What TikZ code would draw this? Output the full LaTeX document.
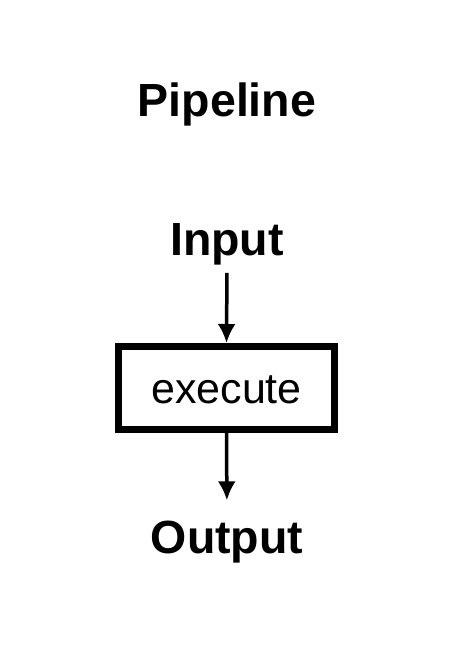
\documentclass[tikz,border=0pt]{standalone}
\usepackage{fontspec}
\setmainfont{Liberation Sans}
\usetikzlibrary{arrows.meta}
\tikzset{
  heading/.style={inner sep=0pt,anchor=base,font=\fontsize{46.5}{55}\selectfont\bfseries},
  stagebox/.style={draw,line width=7pt,minimum width=216pt,minimum height=83pt,
    text height=30pt,text depth=0pt,font=\fontsize{43}{52}\selectfont},
  flow/.style={line width=3.5pt,-{Latex[length=19pt,width=18pt]}}
}
\begin{document}
\begin{tikzpicture}[x=1pt,y=-1pt]
  \useasboundingbox (0,0) rectangle (456,666);
  \node[heading] (title) at (227,117) {Pipeline};
  \node[heading] (input) at (227,255) {Input};
  \node[stagebox] (exec) at (226.5,388) {execute};
  \node[heading] (output) at (227,553) {Output};
  \draw[flow,shorten <=8pt] (input.south) -- (exec.north);
  \draw[flow,shorten >=20pt] (exec.south) -- (output.north);
\end{tikzpicture}
\end{document}
